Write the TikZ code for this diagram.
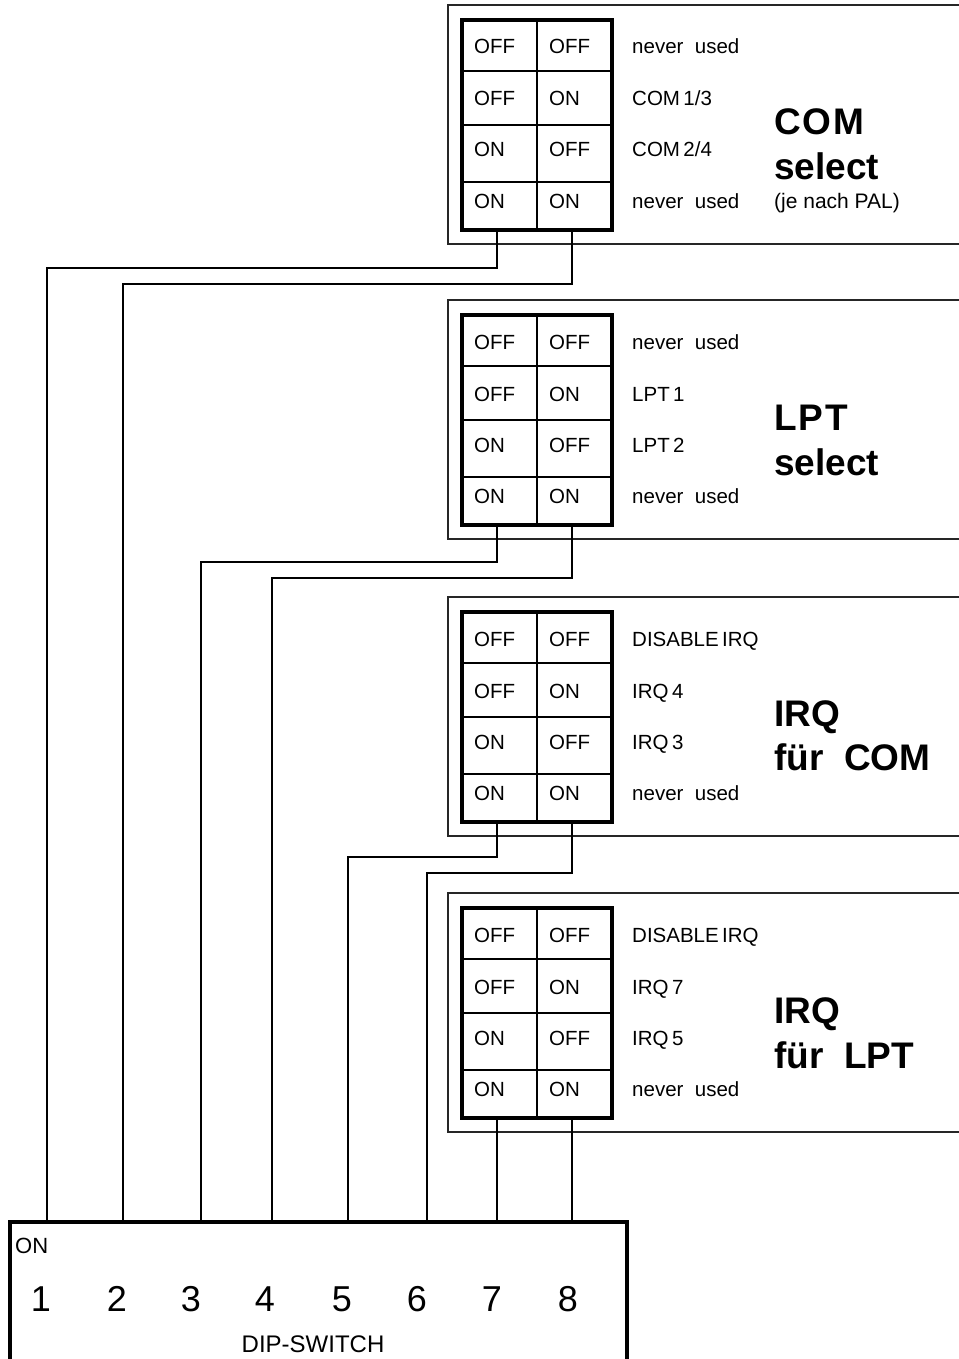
\documentclass[tikz,border=0pt]{standalone}
\usepackage{fontspec}
\setmainfont{Liberation Sans}

\begin{document}
\begin{tikzpicture}[x=1pt,y=-1pt,
	panelbox/.style={draw=black!85,line width=1.3pt},
	swtable/.style={line width=4pt},
	celllines/.style={line width=2pt},
	wire/.style={line width=2pt},
	small/.style={anchor=base west,inner sep=0pt,font=\fontsize{20.5}{24}\selectfont},
	big/.style={anchor=base west,inner sep=0pt,font=\fontsize{37}{44}\selectfont\bfseries},
	pinno/.style={anchor=base,inner sep=0pt,font=\fontsize{36}{42}\selectfont}]
	\useasboundingbox (0,0) rectangle (958,1359);

	% the four switch panels
	\foreach \T/\p in {20/com,315/lpt,612/irqc,908/irql}
	{
		\draw[panelbox] (975,\T-15) -- (448,\T-15) -- (448,\T+224) -- (975,\T+224);
		\draw[celllines] (537,\T) -- (537,\T+210);
		\foreach \r in {51,105,162}
		{
			\draw[celllines] (462,\T+\r) -- (612,\T+\r);
		}
		\draw[swtable] (462,\T) rectangle (612,\T+210);
		\coordinate (\p-a) at (497,\T+210);
		\coordinate (\p-b) at (572,\T+210);
		\foreach \o/\s/\t in {34/OFF/OFF,86/OFF/ON,137/ON/OFF,188/ON/ON}
		{
			\node[small] (\p-\o-l) at (474,\T+\o) {\s};
			\node[small] (\p-\o-r) at (549,\T+\o) {\t};
		}
	}

	% COM select
	\node[small] (com-t1) at (632,54) {never\ \ used};
	\node[small] (com-t2) at (632,106) {COM\,1/3};
	\node[small] (com-t3) at (632,157) {COM\,2/4};
	\node[small] (com-t4) at (632,208) {never\ \ used};
	\node[big] (com-h1) at (774,135) {C\kern2pt O\kern2pt M};
	\node[big] (com-h2) at (774,180) {select};
	\node[small,font=\fontsize{21}{24}\selectfont] (com-pal) at (774,208) {(je nach PAL)};

	% LPT select
	\node[small] (lpt-t1) at (632,349) {never\ \ used};
	\node[small] (lpt-t2) at (632,401) {LPT\,1};
	\node[small] (lpt-t3) at (632,452) {LPT\,2};
	\node[small] (lpt-t4) at (632,503) {never\ \ used};
	\node[big] (lpt-h1) at (774,430) {L\kern2pt P\kern2pt T};
	\node[big] (lpt-h2) at (774,475) {select};

	% IRQ fuer COM
	\node[small] (irqc-t1) at (632,646) {DISABLE\,IRQ};
	\node[small] (irqc-t2) at (632,698) {IRQ\,4};
	\node[small] (irqc-t3) at (632,749) {IRQ\,3};
	\node[small] (irqc-t4) at (632,800) {never\ \ used};
	\node[big] (irqc-h1) at (774,726) {IRQ};
	\node[big] (irqc-h2) at (774,770) {für\ \ COM};

	% IRQ fuer LPT
	\node[small] (irql-t1) at (632,942) {DISABLE\,IRQ};
	\node[small] (irql-t2) at (632,994) {IRQ\,7};
	\node[small] (irql-t3) at (632,1045) {IRQ\,5};
	\node[small] (irql-t4) at (632,1096) {never\ \ used};
	\node[big] (irql-h1) at (774,1023) {IRQ};
	\node[big] (irql-h2) at (774,1068) {für\ \ LPT};

	% DIP switch
	\draw[swtable] (10,1375) |- (627,1222) -- (627,1375);
	\node[anchor=base west,inner sep=0pt,font=\fontsize{22}{26}\selectfont] (dip-on) at (15,1253) {ON};
	\node[anchor=base,inner sep=0pt,font=\fontsize{24}{28}\selectfont] (dip-name) at (313,1352) {DIP-SWITCH};
	\foreach \i/\x/\n in {1/47/41,2/123/117,3/201/191,4/272/265,5/348/342,6/427/417,7/497/492,8/572/568}
	{
		\coordinate (pin\i) at (\x,1222);
		\node[pinno] (no\i) at (\n,1311) {\i};
	}

	% wires
	\draw[wire] (com-a) -- ++(0,38) -| (pin1);
	\draw[wire] (com-b) -- ++(0,54) -| (pin2);
	\draw[wire] (lpt-a) -- ++(0,37) -| (pin3);
	\draw[wire] (lpt-b) -- ++(0,53) -| (pin4);
	\draw[wire] (irqc-a) -- ++(0,35) -| (pin5);
	\draw[wire] (irqc-b) -- ++(0,51) -| (pin6);
	\draw[wire] (irql-a) -- (pin7);
	\draw[wire] (irql-b) -- (pin8);
\end{tikzpicture}
\end{document}
